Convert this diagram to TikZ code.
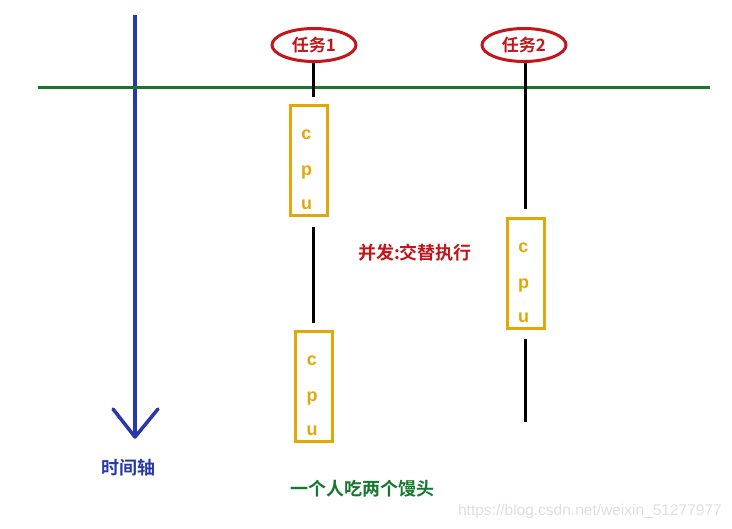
\documentclass[tikz,border=0pt]{standalone}
\usepackage{fontspec}
\setmainfont{Liberation Sans}
\newfontfamily\cjk{Noto Sans CJK SC}[BoldFont={Noto Sans CJK SC Bold}]
\usetikzlibrary{shapes.geometric}
\definecolor{axisblue}{RGB}{40,56,168}
\definecolor{taskred}{RGB}{196,22,26}
\definecolor{linegreen}{RGB}{22,120,48}
\definecolor{gold}{RGB}{226,168,10}
\tikzset{
  taskell/.style={ellipse, draw=taskred, line width=3pt, minimum width=84pt, minimum height=33pt, inner sep=0pt, text=taskred, font=\cjk\bfseries\fontsize{17}{17}\selectfont},
  cpubox/.style={draw=gold, line width=3pt, minimum width=37pt, minimum height=110pt, inner sep=0pt},
  cpuletter/.style={text=gold, anchor=base, inner sep=0pt, font=\bfseries\fontsize{18}{18}\selectfont},
  tline/.style={line width=3pt, black},
  cjklabel/.style={font=\cjk\bfseries\fontsize{18}{18}\selectfont},
}
\begin{document}
\begin{tikzpicture}[x=1pt,y=-1pt]
\useasboundingbox[fill=white] (0,0) rectangle (732,529);
% time axis
\coordinate (axtop) at (135,15);
\coordinate (axbot) at (135,437);
\coordinate (axl) at (113,409);
\coordinate (axr) at (158,409);
\draw[axisblue, line width=3.5pt] (axtop) -- (axbot);
\draw[axisblue, line width=3.5pt, line cap=round, line join=round] (axl) -- (axbot) -- (axr);
% green line
\coordinate (gl) at (38,88);
\coordinate (gr) at (710,88);
\draw[linegreen, line width=3pt] (gl) -- (gr);
% tasks
\node[taskell] (t1) at (314,45) {任务1};
\node[taskell] (t2) at (524,45) {任务2};
% cpu boxes
\node[cpubox] (c1) at (308.5,161) {};
\node[cpubox] (c2) at (314,387) {};
\node[cpubox] (c3) at (525.5,274) {};
\foreach \b in {c1,c2,c3}{
  \node[cpuletter] at ([xshift=-2pt,yshift=21pt]\b.center) {c};
  \node[cpuletter] at ([xshift=-2pt,yshift=-15pt]\b.center) {p};
  \node[cpuletter] at ([xshift=-2pt,yshift=-49pt]\b.center) {u};
}
% task 1 lines
\coordinate (a1) at (313,97);
\coordinate (a2) at (313,227);
\coordinate (a3) at (313,323);
\draw[tline] (t1.south -| a1) -- (a1);
\draw[tline] (a2) -- (a3);
% task 2 lines
\coordinate (b1) at (525,209);
\coordinate (b2) at (525,339);
\coordinate (b3) at (525,422);
\draw[tline] (t2.south -| b1) -- (b1);
\draw[tline] (b2) -- (b3);
% texts
\node[text=taskred, cjklabel] (conc) at (415,253) {并发:交替执行};
\node[text=axisblue, cjklabel] (axlab) at (128,468) {时间轴};
\node[text=linegreen, cjklabel] (eat) at (362,489) {一个人吃两个馒头};
\node[text=black!12, font=\fontsize{15.5}{15.5}\selectfont, anchor=east, inner sep=0pt] (wm) at (722,511) {https://blog.csdn.net/weixin\_51277977};
\end{tikzpicture}
\end{document}
